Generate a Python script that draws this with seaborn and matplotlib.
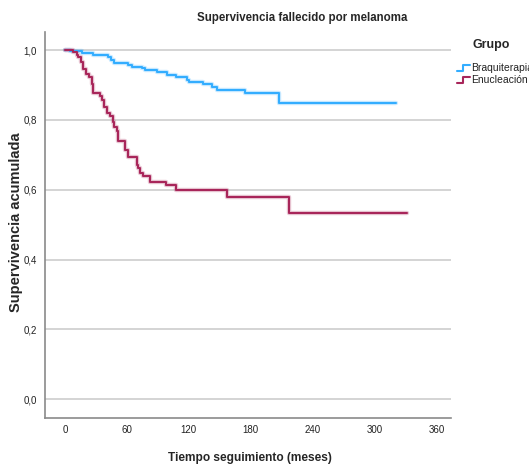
import matplotlib
matplotlib.use("Agg")
import matplotlib.pyplot as plt
import seaborn as sns
import pandas as pd
from matplotlib.lines import Line2D

# ---- data ----
groups = ["Braquiterapia", "Enucleación"]

braqui_time = [0, 5, 16, 27.5, 42, 44.6, 47, 61.4, 64.7, 74.4, 77.6, 89, 98.6, 107.7,
               118.6, 120.6, 134, 142, 147, 174.6, 207, 321]
braqui_surv = [1.0, 0.998, 0.993, 0.987, 0.979, 0.971, 0.964, 0.958, 0.952, 0.948, 0.943,
               0.936, 0.928, 0.922, 0.914, 0.909, 0.903, 0.895, 0.887, 0.876, 0.849, 0.849]

enuc_time = [0, 4.8, 8, 11.3, 13, 15.2, 17.2, 20.4, 23.6, 25.9, 27.4, 34, 35.6, 37.8, 40.4,
             43.6, 46.3, 47.5, 50.7, 51.7, 58.2, 61.4, 69.5, 71.1, 72.7, 75.4, 82, 97.5,
             108, 157, 216.6, 331]
enuc_surv = [1.0, 0.999, 0.995, 0.986, 0.979, 0.966, 0.946, 0.933, 0.922, 0.903, 0.877,
             0.868, 0.857, 0.836, 0.821, 0.811, 0.793, 0.779, 0.767, 0.741, 0.713, 0.695,
             0.671, 0.661, 0.647, 0.639, 0.622, 0.614, 0.600, 0.579, 0.533, 0.533]

x_ticks = [0, 60, 120, 180, 240, 300, 360]
y_ticks = [0.0, 0.2, 0.4, 0.6, 0.8, 1.0]
y_ticklabels = ["0,0", "0,2", "0,4", "0,6", "0,8", "1,0"]

colors = {"Braquiterapia": "#33adff", "Enucleación": "#a8265a"}

df = pd.concat([
    pd.DataFrame({"t": braqui_time, "s": braqui_surv, "Grupo": groups[0]}),
    pd.DataFrame({"t": enuc_time, "s": enuc_surv, "Grupo": groups[1]}),
], ignore_index=True)

sns.set_style("white")
plt.rcParams["font.family"] = ["Liberation Sans", "DejaVu Sans"]

fig = plt.figure(figsize=(5.29, 4.68), dpi=100)
ax = fig.add_axes([45 / 529, 50 / 468, 406 / 529, 386 / 468])

# halo
sns.lineplot(data=df, x="t", y="s", hue="Grupo", palette=colors, estimator=None,
             sort=False, drawstyle="steps-post", linewidth=3.2, alpha=0.25,
             legend=False, ax=ax)
sns.lineplot(data=df, x="t", y="s", hue="Grupo", palette=colors, estimator=None,
             sort=False, drawstyle="steps-post", linewidth=1.5,
             legend=False, ax=ax)

ax.set_xlim(-19.4, 374)
ax.set_ylim(-0.054, 1.052)
ax.set_xticks(x_ticks)
ax.set_xticklabels([str(v) for v in x_ticks])
ax.set_yticks(y_ticks)
ax.set_yticklabels(y_ticklabels)
ax.tick_params(axis="both", length=0, labelsize=7, colors="#222222")
ax.tick_params(axis="x", pad=5)
ax.tick_params(axis="y", pad=6)
ax.yaxis.grid(True, color="#d4d4d4", linewidth=1.4)
ax.xaxis.grid(False)
ax.set_axisbelow(True)
for sp in ["top", "right"]:
    ax.spines[sp].set_visible(False)
for sp in ["left", "bottom"]:
    ax.spines[sp].set_color("#8a8a8a")
    ax.spines[sp].set_linewidth(1.2)

ax.set_xlabel("")
ax.set_ylabel("")
fig.text(250 / 529, 1 - 458 / 468, "Tiempo seguimiento (meses)", ha="center", va="center",
         fontsize=8.6, fontweight="bold")
fig.text(16 / 529, 1 - 222 / 468, "Supervivencia acumulada", ha="center", va="center",
         rotation=90, fontsize=10.5, fontweight="bold")
fig.text(302 / 529, 1 - 18 / 468, "Supervivencia fallecido por melanoma", ha="center",
         va="center", fontsize=8.3, fontweight="bold")

# legend
fig.text(491 / 529, 1 - 45 / 468, "Grupo", ha="center", va="center", fontsize=9,
         fontweight="bold")
for i, g in enumerate(groups):
    yc = 68 + 12 * i
    xs = [457, 463, 463, 470]
    ys = [yc + 3, yc + 3, yc - 3, yc - 3]
    fig.add_artist(Line2D([x / 529 for x in xs], [1 - y / 468 for y in ys],
                          color=colors[g], linewidth=1.5, transform=fig.transFigure))
    fig.text(471 / 529, 1 - yc / 468, g, ha="left", va="center", fontsize=7.5,
             color="#222222")

fig.savefig("out.png", dpi=100)
